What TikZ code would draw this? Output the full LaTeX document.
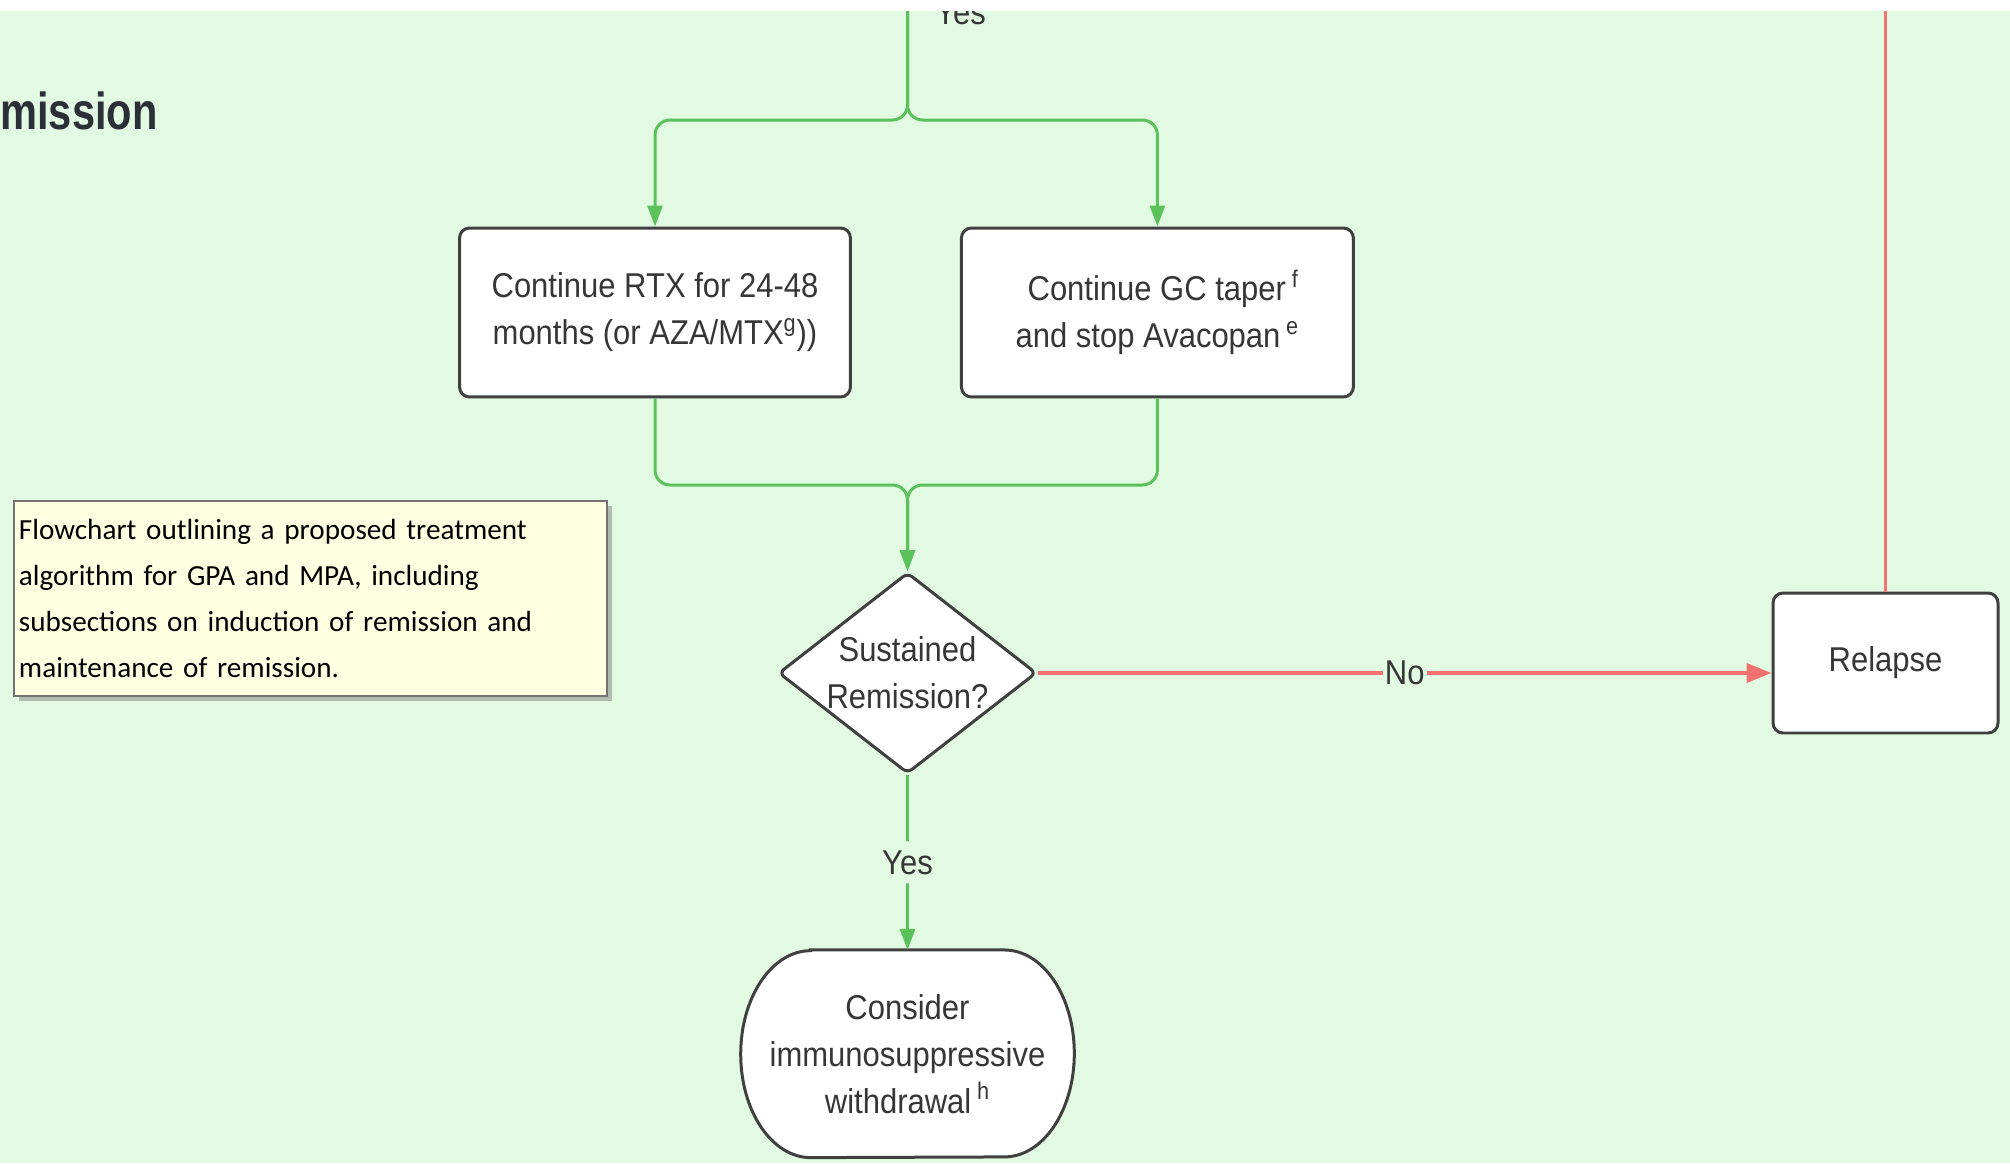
\documentclass[tikz,border=0pt]{standalone}
\usepackage{fontspec}
\setmainfont{Liberation Sans}
\newfontfamily\boxfont[FakeStretch=0.9]{Liberation Sans}
\newfontfamily\headfont[FakeStretch=0.8]{Liberation Sans}
\newfontfamily\notefont{Carlito}
\usetikzlibrary{positioning, shapes.geometric, arrows.meta, shadows, backgrounds, calc}

\definecolor{bggreen}{HTML}{E2F9E2}
\definecolor{flowgreen}{HTML}{5BC25B}
\definecolor{backred}{HTML}{F27171}
\definecolor{boxgray}{HTML}{404040}
\definecolor{textgray}{HTML}{363636}
\definecolor{titlegray}{HTML}{2B3038}
\definecolor{noteyellow}{HTML}{FFFFE1}

\tikzset{
  txt/.style = {font=\boxfont\fontsize{19.6pt}{26.8pt}\selectfont, text=textgray},
  proc/.style = {txt, draw=boxgray, line width=0.06cm, fill=white, rounded corners=0.2cm,
                 align=center, inner sep=0pt},
  decision/.style = {diamond, draw=boxgray, line width=0.06cm, fill=white, rounded corners=0.12cm,
                     minimum width=5.16cm, minimum height=4.02cm, inner sep=0pt},
  term/.style = {txt, align=center, minimum width=6.66cm, minimum height=4.14cm, inner sep=0pt},
  note/.style = {font=\notefont\fontsize{16.6pt}{26.2pt}\selectfont, text=black, align=left,
                 draw=black!55, line width=0.04cm, fill=noteyellow, inner sep=0.1cm,
                 text width=11.66cm, minimum height=3.9cm,
                 drop shadow={shadow xshift=0.1cm, shadow yshift=-0.1cm, fill=black!50, opacity=0.5}},
  flow/.style = {draw=flowgreen, line width=0.06cm, rounded corners=0.3cm,
                 -{Triangle[length=0.42cm, width=0.3cm]}},
  back/.style = {draw=backred, line width=0.08cm, -{Triangle[length=0.5cm, width=0.38cm]}},
  lbl/.style = {txt, fill=bggreen, inner xsep=0.04cm, inner ysep=0.18cm},
}

\begin{document}
\begin{tikzpicture}[x=0.02cm, y=-0.02cm]
        \useasboundingbox (0,0) rectangle (2010,1163);
        \begin{pgfonlayer}{background}
          \fill[bggreen] (0,0) rectangle (2010,1163); %
        \end{pgfonlayer}
        %
        \node[anchor=base west, inner sep=0pt, text=titlegray,
              font=\headfont\bfseries\fontsize{29.6pt}{30pt}\selectfont] (title) at (0,129) {mission}; %
        \coordinate (topin) at (907.5,0); %
        \coordinate (split) at (907.5,120); %
        \coordinate (merge) at (907.5,485); %
        \node[txt, anchor=base west, inner sep=0pt] (yestop) at ([xshift=0.55cm, yshift=-0.5cm]topin) {Yes}; %
        \node[proc, minimum width=7.82cm, minimum height=3.38cm] (rtx) at (655,312.5)
             {Continue RTX for 24-48\\months (or AZA/MTX\textsuperscript{g}))}; %
        \node[proc, minimum width=7.84cm, minimum height=3.38cm, right = 2.16cm of rtx] (avac)
             {\,\,Continue GC taper\,\textsuperscript{f}\\and stop Avacopan\,\textsuperscript{e}}; %
        \node[decision, label={[txt, align=center]center:Sustained\\Remission?}] (check) at (907.5,673) {}; %
        \node[proc, minimum width=4.5cm, minimum height=2.8cm] (relapse) at (1885.5,663) {Relapse}; %
        \node[term, below = 3.5cm of check] (withdraw)
             {Consider\\immunosuppressive\\withdrawal\,\textsuperscript{h}}; %
        \node[note, anchor=north west] (caption) at (13,500)
             {Flowchart outlining a proposed treatment\\algorithm for GPA and MPA, including\\subsections on induction of remission and\\maintenance of remission.}; %
        %
        \begin{pgfonlayer}{background}
          \draw[draw=boxgray, line width=0.06cm, fill=white]
               ($(withdraw.north west)+(70,0)$) -- ($(withdraw.north east)+(-70,0)$)
               arc[start angle=90, end angle=-90, x radius=1.4cm, y radius=2.07cm]
               -- ($(withdraw.south west)+(70,0)$)
               arc[start angle=270, end angle=90, x radius=1.4cm, y radius=2.07cm] -- cycle; %
        \end{pgfonlayer}
        %
        \draw[flow] (topin) -- (split) -| (rtx.north); %
        \draw[flow] (topin) -- (split) -| (avac.north); %
        \draw[flow] (rtx.south) |- (merge) -- (check.north); %
        \draw[flow] (avac.south) |- (merge) -- (check.north); %
        \draw[flow] (check.south) -- node[lbl] {Yes} (withdraw.north); %
        \draw[back] (check.east) -- node[lbl, inner ysep=0.02cm] {No} (check.east -| relapse.west); %
        \draw[draw=backred, line width=0.05cm] (relapse.north) -- (relapse.north |- topin); %
        %
        \fill[white] (0,0) rectangle (2010,11); %
\end{tikzpicture}
\end{document}
